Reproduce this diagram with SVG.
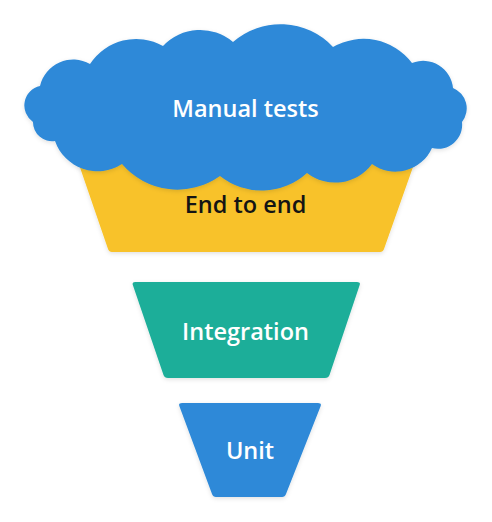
<svg xmlns="http://www.w3.org/2000/svg" width="492" height="522" viewBox="0 0 492 522">
  <defs>
    <filter id="sh" x="-10%" y="-10%" width="120%" height="130%">
      <feDropShadow dx="0" dy="1.5" stdDeviation="2" flood-color="#000" flood-opacity="0.12"/>
    </filter>
    <style>
      .lbl { font-family: "Open Sans", "Liberation Sans", Arial, sans-serif; font-weight: 600; font-size: 23.5px; text-anchor: middle; }
      .w { fill: #ffffff; }
      .k { fill: #141414; }
      .blue { fill: #2e89d8; }
      .yellow { fill: #f8c229; }
      .teal { fill: #1cae99; }
    </style>
  </defs>
  <rect width="492" height="522" fill="#ffffff"/>
  <g id="connectors"/>
  <g id="end-to-end">
    <path class="yellow" filter="url(#sh)" d="M74,150 H419 L384,249 Q383,252 380,252 H112 Q109,252 108,249 Z"/>
    <text class="lbl k" x="245.5" y="213">End to end</text>
  </g>
  <g id="manual-tests">
    <path class="blue" filter="url(#sh)" d="M40,86 A34,34 0 0,1 90,64 A55,55 0 0,1 163,46 A51,51 0 0,1 233,42 A72,72 0 0,1 333,47 A61,61 0 0,1 412,63 A30,30 0 0,1 453,88 A22,22 0 0,1 462,122 A24,24 0 0,1 432,148 A40,40 0 0,1 372,164 A46,46 0 0,1 307,173 A67,67 0 0,1 220,176 A73,73 0 0,1 122,164 A45,45 0 0,1 55,141 A19,19 0 0,1 33,122 A20,20 0 0,1 40,86 Z"/>
    <text class="lbl w" x="245.5" y="117">Manual tests</text>
  </g>
  <g id="integration">
    <path class="teal" filter="url(#sh)" d="M135,282 H357 Q361,282 359.5,285.5 L329.5,375 Q328.5,378 325,378 H168 Q164.5,378 163.5,375 L133,285.5 Q131.5,282 135,282 Z"/>
    <text class="lbl w" x="245.5" y="340">Integration</text>
  </g>
  <g id="unit">
    <path class="blue" filter="url(#sh)" d="M182,403 H318 Q322,403 320.5,406.5 L286,494 Q285,497 282,497 H216 Q213,497 212,494 L179.5,406.5 Q178,403 182,403 Z"/>
    <text class="lbl w" x="250" y="459">Unit</text>
  </g>
</svg>
